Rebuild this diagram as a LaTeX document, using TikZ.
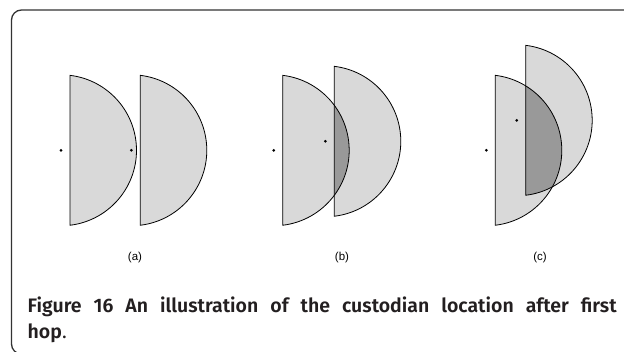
\documentclass[tikz,border=0pt]{standalone}
\usepackage{fontspec}
\setmainfont{Fira Sans}
\newfontfamily\capfont{Fira Sans SemiBold}
\newfontfamily\labfont{Liberation Sans}
\definecolor{lightg}{HTML}{D9D9D9}
\definecolor{darkg}{HTML}{999999}
\definecolor{framec}{HTML}{333333}
\definecolor{capc}{HTML}{231F20}
\tikzset{
  hdisk/.style={insert path={(#1) ++(-83.15:75.5) arc[start angle=-83.15, end angle=83.15, radius=75.5] -- cycle}},
  shapeline/.style={draw=black, line width=0.8pt},
  lab/.style={font=\labfont\fontsize{11.5}{13}\selectfont, inner sep=0pt},
  capstyle/.style={anchor=base west, inner sep=0pt, text=capc, font=\fontsize{19.5}{23}\selectfont},
}
\begin{document}
\begin{tikzpicture}[x=1pt,y=1pt]
\useasboundingbox (0,0) rectangle (624,351);
\clip (0,0) rectangle (624,351);
% frame
\draw[framec, line width=1.3pt, rounded corners=10pt] (11.5,-3) rectangle (660,341);
% centres
\coordinate (a1) at (61,200.7);
\coordinate (a2) at (131.3,200.7);
\coordinate (b1) at (273.7,200.7);
\coordinate (b2) at (325.3,209.7);
\coordinate (c1) at (486.3,200.7);
\coordinate (c2) at (516.7,230.7);
% (a)
\fill[lightg, hdisk=a1];
\fill[lightg, hdisk=a2];
\draw[shapeline, hdisk=a1];
\draw[shapeline, hdisk=a2];
% (b)
\fill[lightg, hdisk=b1];
\fill[lightg, hdisk=b2];
\begin{scope}
  \clip[hdisk=b1];
  \fill[darkg, hdisk=b2];
\end{scope}
\draw[shapeline, hdisk=b1];
\draw[shapeline, hdisk=b2];
% (c)
\fill[lightg, hdisk=c1];
\fill[lightg, hdisk=c2];
\begin{scope}
  \clip[hdisk=c1];
  \fill[darkg, hdisk=c2];
\end{scope}
\draw[shapeline, hdisk=c1];
\draw[shapeline, hdisk=c2];
% dots
\foreach \p in {a1,a2,b1,b2,c1,c2} \fill (\p) circle (1.5pt);
% labels
\node[lab] (la) at (135,93.2) {(a)};
\node[lab] (lb) at (342,93.2) {(b)};
\node[lab] (lc) at (540,93.2) {(c)};
% caption
\node[capstyle] (cap1) at (27.5,39)
  {\makebox[589pt][s]{\capfont Figure 16 An illustration of the custodian location after first}};
\node[capstyle] (cap2) at (27.5,13)
  {{\capfont hop}.};
\end{tikzpicture}
\end{document}
